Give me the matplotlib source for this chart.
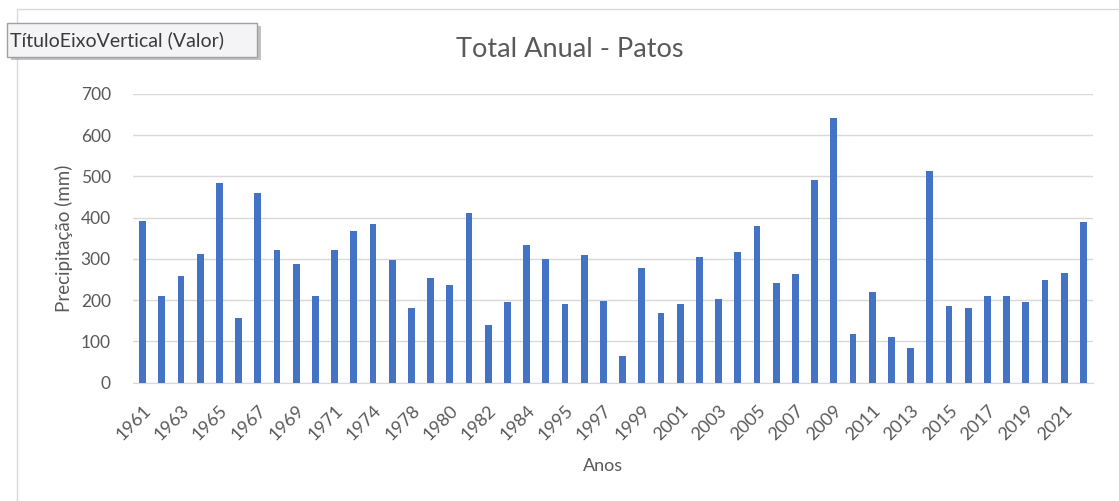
import matplotlib.pyplot as plt
from matplotlib.patches import Rectangle

plt.rcParams['font.family'] = ['Lato', 'DejaVu Sans']

# dados
anos = ['1961', '1962', '1963', '1964', '1965', '1966', '1967', '1968', '1969', '1970',
        '1971', '1972', '1974', '1976', '1978', '1979', '1980', '1981', '1982', '1983',
        '1984', '1985', '1995', '1996', '1997', '1998', '1999', '2000', '2001', '2002',
        '2003', '2004', '2005', '2006', '2007', '2008', '2009', '2010', '2011', '2012',
        '2013', '2014', '2015', '2016', '2017', '2018', '2019', '2020', '2021', '2022']
precipitacao = [393, 211, 258, 313, 485, 157, 461, 321, 288, 211,
                321, 368, 385, 297, 182, 254, 238, 411, 140, 196,
                335, 300, 191, 309, 199, 64, 279, 170, 190, 304,
                203, 317, 381, 242, 263, 491, 643, 119, 220, 111,
                85, 513, 186, 182, 211, 211, 195, 250, 267, 389]

cinza = '#595959'
azul = '#4472C4'

fig = plt.figure(figsize=(11.19, 5.01), dpi=100)

# borda da area do grafico
fig.patches.append(Rectangle((17 / 1119, -0.1), 1.2, 1 - 9 / 501 + 0.1,
                             transform=fig.transFigure, fill=False,
                             edgecolor='#D9D9D9', linewidth=1))

ax = fig.add_axes([133 / 1119, 1 - 382.7 / 501, 960 / 1119, 288.7 / 501])
x = list(range(len(anos)))
ax.bar(x, precipitacao, width=0.35, color=azul, zorder=3)

ax.set_xlim(-0.5, len(anos) - 0.5)
ax.set_ylim(0, 700)
ax.set_yticks(range(0, 701, 100))
ax.grid(axis='y', color='#D9D9D9', linewidth=1, zorder=0)
for s in ['top', 'right', 'left']:
    ax.spines[s].set_visible(False)
ax.spines['bottom'].set_color('#D9D9D9')
ax.tick_params(axis='y', length=0, pad=16, labelsize=12.5, labelcolor=cinza)
ax.tick_params(axis='x', length=0, pad=14, labelsize=13, labelcolor=cinza)

# rotulos so nos anos alternados
ax.set_xticks(x[::2])
ax.set_xticklabels(anos[::2], rotation=45, ha='right', rotation_mode='anchor')

ax.set_ylabel('Precipitação (mm)', fontsize=13.5, color=cinza)
ax.yaxis.set_label_coords(-0.0625, 0.5)
ax.set_xlabel('Anos', fontsize=13, color=cinza)
ax.xaxis.set_label_coords(0.5 + (603 - 613) / 960, -0.26)

fig.text(570 / 1119, 1 - 57 / 501, 'Total Anual - Patos', fontsize=19.5,
         color=cinza, ha='center', va='baseline')

# caixa de dica
fig.patches.append(Rectangle((11 / 1119, 1 - 60 / 501), 250 / 1119, 34 / 501,
                             transform=fig.transFigure, facecolor='#9A9A9A',
                             edgecolor='none', alpha=0.6))
fig.patches.append(Rectangle((7 / 1119, 1 - 57 / 501), 250 / 1119, 34 / 501,
                             transform=fig.transFigure, facecolor='#F4F4F6',
                             edgecolor='#A0A0A0', linewidth=1))
fig.text(10 / 1119, 1 - 40 / 501, 'TítuloEixoVertical (Valor)', fontsize=14,
         color='#3A3A3A', ha='left', va='center')

fig.savefig('out.png', dpi=100, facecolor='white')
